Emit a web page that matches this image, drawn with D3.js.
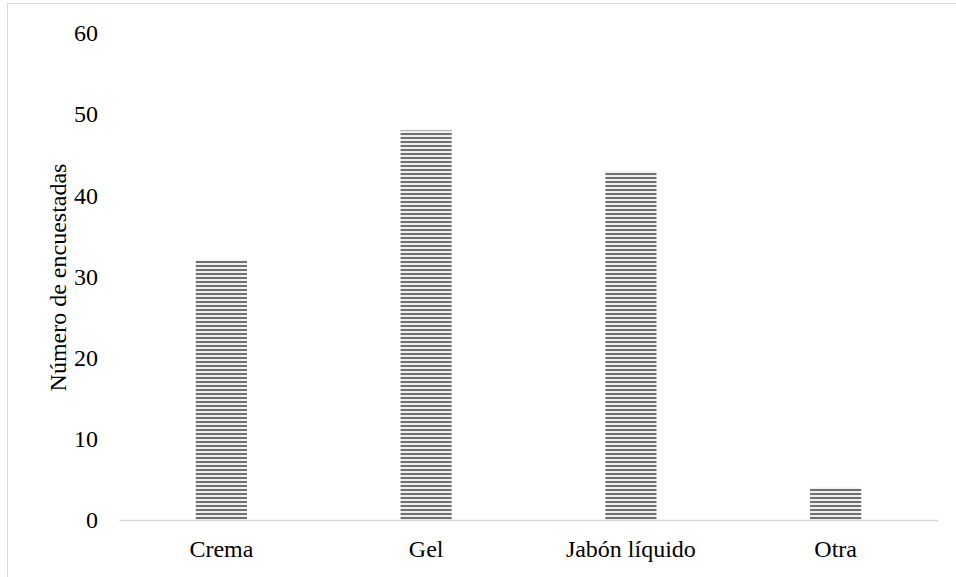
<!DOCTYPE html>
<html>
<head>
<meta charset="utf-8">
<script src="https://cdn.jsdelivr.net/npm/d3@7"></script>
<style>
  html, body { margin: 0; padding: 0; background: #fff; }
  svg { display: block; }
  text { font-family: "Liberation Serif", "Times New Roman", serif; fill: #000; }
</style>
</head>
<body>
<svg id="chart" width="956" height="577"></svg>
<script>
const categories = ["Crema", "Gel", "Jabón líquido", "Otra"];
const values = [32, 48, 43, 4];
const yTicks = [0, 10, 20, 30, 40, 50, 60];
const yTitle = "Número de encuestadas";

const svg = d3.select("#chart");
const W = 956, H = 577;
const m = { left: 119, right: 18, top: 33, bottom: 57 };
const x0 = m.left, x1 = W - m.right, yBase = H - m.bottom;
const FS = "24px";

// Outer chart border (only top/left visible)
svg.append("rect")
  .attr("x", 7.5).attr("y", 3.5)
  .attr("width", 960).attr("height", 600)
  .attr("fill", "#fff").attr("stroke", "#d9d9d9").attr("stroke-width", 1);

const defs = svg.append("defs");
const pat = defs.append("pattern")
  .attr("id", "hstripe")
  .attr("patternUnits", "userSpaceOnUse")
  .attr("width", 8).attr("height", 4);
pat.append("rect").attr("width", 8).attr("height", 4).attr("fill", "#f0f0f0");
pat.append("rect").attr("y", 1).attr("width", 8).attr("height", 2).attr("fill", "#707070");

const x = d3.scaleBand().domain(categories).range([x0, x1])
  .paddingInner(0.75).paddingOuter(0.375);
const y = d3.scaleLinear().domain([0, 60]).range([yBase, m.top]);

// Y tick labels
const yAxis = svg.append("g")
  .attr("transform", `translate(${x0},0)`)
  .call(d3.axisLeft(y).tickValues(yTicks).tickSize(0).tickPadding(21).tickFormat(d3.format("d")));
yAxis.select(".domain").remove();
yAxis.selectAll("text").style("font-size", FS).style("font-family", "'Liberation Serif', serif").attr("fill", "#000");

// Bars
svg.append("g").selectAll("rect")
  .data(values)
  .join("rect")
  .attr("x", (d, i) => x(categories[i]))
  .attr("width", x.bandwidth())
  .attr("y", d => y(d))
  .attr("height", d => yBase - y(d))
  .attr("fill", "url(#hstripe)");

// X axis
const xAxis = svg.append("g")
  .attr("transform", `translate(0,${yBase})`)
  .call(d3.axisBottom(x).tickSize(0).tickPadding(20));
xAxis.select(".domain").attr("stroke", "#d9d9d9").attr("stroke-width", 1.5);
xAxis.selectAll("text").style("font-size", FS).style("font-family", "'Liberation Serif', serif").attr("fill", "#000");

// Y title
svg.append("text")
  .attr("transform", `translate(58,${(yBase + m.top) / 2 + 1}) rotate(-90)`)
  .attr("text-anchor", "middle")
  .attr("dominant-baseline", "central")
  .style("font-size", FS)
  .text(yTitle);
</script>
</body>
</html>
